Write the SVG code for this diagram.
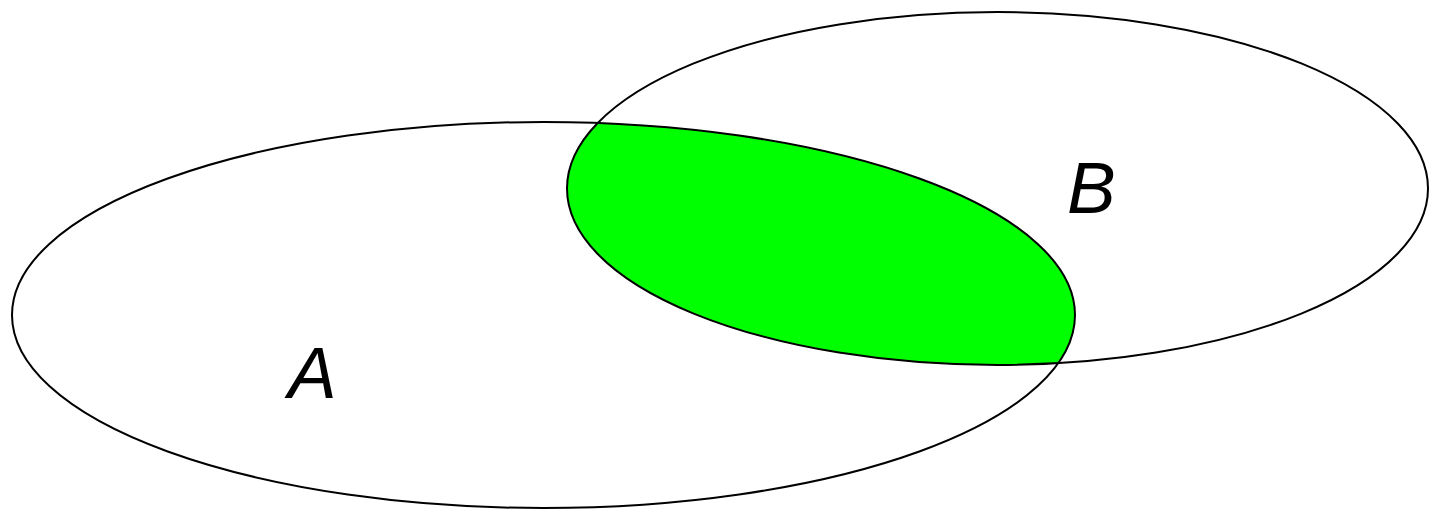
<svg xmlns="http://www.w3.org/2000/svg" width="1430" height="510" viewBox="0 0 1430 510">
  <style>
    .outline { fill: none; stroke: #000; stroke-width: 2; }
    .label { font-family: "Liberation Sans", Arial, sans-serif; font-style: italic; font-size: 73px; fill: #000; }
  </style>
  <defs>
    <clipPath id="clipA">
      <ellipse cx="543.5" cy="315" rx="531.5" ry="193"/>
    </clipPath>
  </defs>
  <rect x="0" y="0" width="1430" height="510" fill="#fff"/>
  <g id="intersection">
    <ellipse cx="997.5" cy="188.5" rx="430.5" ry="176.5" fill="#00ff00" clip-path="url(#clipA)"/>
  </g>
  <g id="setA">
    <ellipse class="outline" cx="543.5" cy="315" rx="531.5" ry="193"/>
    <text class="label" x="288" y="398">A</text>
  </g>
  <g id="setB">
    <ellipse class="outline" cx="997.5" cy="188.5" rx="430.5" ry="176.5"/>
    <text class="label" x="1067" y="213">B</text>
  </g>
</svg>
